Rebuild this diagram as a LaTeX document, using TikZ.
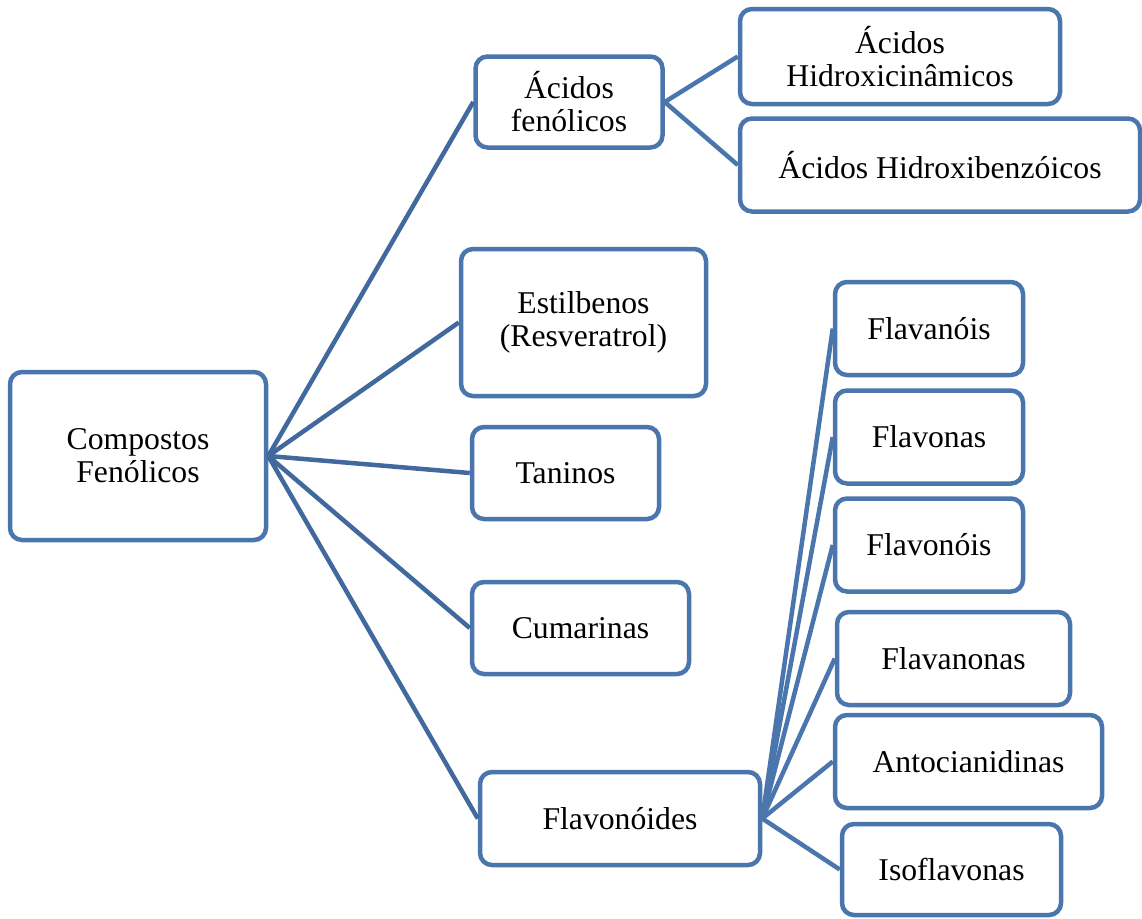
\documentclass[tikz,border=0pt]{standalone}
\usepackage{fontspec}
\setmainfont{Liberation Serif}
\definecolor{bl}{HTML}{4A76AD}
\definecolor{bld}{HTML}{41699D}
\begin{document}
\begin{tikzpicture}[x=1pt,y=-1pt,
  box/.style={draw=bl, line width=4.5pt, rounded corners=12pt, fill=white, align=center,
    inner sep=0pt, font=\fontsize{31.7}{33}\selectfont, text=black},
  link/.style={draw=bl, line width=4.5pt},
  rootlink/.style={draw=bld, line width=4.5pt}]
\useasboundingbox (0,0) rectangle (1142,918);
% nodes
\node[box, minimum width=256, minimum height=168] (root) at (138,456) {Compostos\\Fenólicos};
\node[box, minimum width=187, minimum height=91] (af) at (569,102) {Ácidos\\fenólicos};
\node[box, minimum width=320, minimum height=95] (hc) at (900,56.5) {Ácidos\\Hidroxicinâmicos};
\node[box, minimum width=400, minimum height=93] (hb) at (940,165) {Ácidos Hidroxibenzóicos};
\node[box, minimum width=245, minimum height=147] (est) at (583.5,322.5) {Estilbenos\\(Resveratrol)};
\node[box, minimum width=187, minimum height=92] (tan) at (565.5,473) {Taninos};
\node[box, minimum width=217, minimum height=92] (cum) at (580.5,628) {Cumarinas};
\node[box, minimum width=280, minimum height=93] (flv) at (620,818.5) {Flavonóides};
\node[box, minimum width=188, minimum height=93] (f1) at (929,328.5) {Flavanóis};
\node[box, minimum width=188, minimum height=93] (f2) at (929,437) {Flavonas};
\node[box, minimum width=188, minimum height=93] (f3) at (929,545) {Flavonóis};
\node[box, minimum width=233, minimum height=93] (f4) at (953.5,658.5) {Flavanonas};
\node[box, minimum width=267, minimum height=93] (f5) at (968.5,761.5) {Antocianidinas};
\node[box, minimum width=219, minimum height=91] (f6) at (951.5,869.5) {Isoflavonas};
% connectors
\foreach \c in {af,est,tan,cum,flv} \draw[rootlink] (root.east) -- (\c.west);
\foreach \c in {hc,hb} \draw[link] (af.east) -- (\c.west);
\foreach \c in {f1,f2,f3,f4,f5,f6} \draw[link] (flv.east) -- (\c.west);
\end{tikzpicture}
\end{document}
